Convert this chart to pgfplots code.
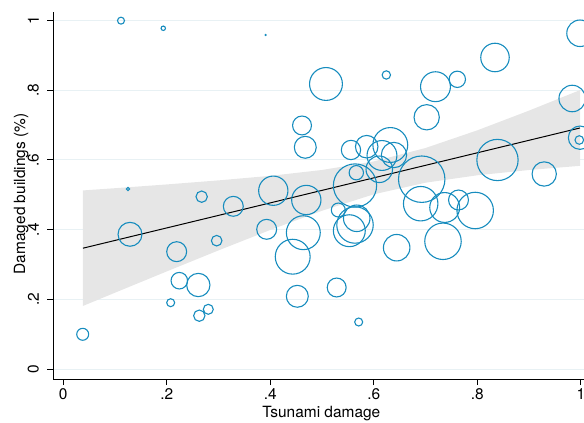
\documentclass[border=0pt]{standalone}
\usepackage{pgfplots}
\pgfplotsset{compat=1.18}
\usepackage{pgfplotstable}
\usepackage{fontspec}
\setmainfont{TeX Gyre Heros}
\definecolor{bub}{RGB}{22,140,190}
\definecolor{band}{RGB}{230,230,230}
\definecolor{gridc}{RGB}{232,241,244}

\pgfplotstableread{
x y r
0.0375 0.1003 6
0.1115 0.9989 3.5
0.1932 0.9771 2.2
0.1250 0.5166 1.7
0.3911 0.9579 0.5
0.1289 0.3868 12
0.2191 0.3370 10
0.2242 0.2539 8.3
0.2609 0.2415 11.7
0.2075 0.1908 4
0.2628 0.1536 5.7
0.2802 0.1719 5
0.2964 0.3685 5.3
0.2674 0.4946 5.7
0.3285 0.4670 10
0.3930 0.4011 10
0.4058 0.5117 14.7
0.4433 0.3226 17.5
0.4522 0.2092 11
0.4613 0.6986 9.5
0.4676 0.6361 11
0.4696 0.4851 14.7
0.4638 0.3914 17
0.5076 0.8175 16.5
0.6242 0.8433 4.2
0.5314 0.4564 7
0.5670 0.4327 13.3
0.5637 0.4135 18.3
0.5527 0.3971 16
0.5283 0.2344 9.5
0.5708 0.1355 4
0.5559 0.6284 9.7
0.5863 0.6378 11.3
0.6319 0.6427 17.5
0.6158 0.6126 15
0.6390 0.6140 12.7
0.6106 0.5731 13.3
0.5662 0.5633 7.2
0.5637 0.5266 21.7
0.6442 0.3484 13.3
0.6926 0.5447 23.3
0.6906 0.4745 17.3
0.7370 0.4636 15
0.7637 0.4851 10
0.7959 0.4550 18.3
0.7337 0.3668 18.3
0.8390 0.5997 20.7
0.9293 0.5596 12.2
0.7022 0.7221 12.7
0.7192 0.8097 15
0.7614 0.8309 8.2
0.8342 0.8934 14.3
0.9985 0.9628 13.3
0.9834 0.7759 13.3
0.9985 0.6636 11.7
0.9971 0.6570 4.3
}\bubbles

\begin{document}
\begin{tikzpicture}[x=1bp,y=1bp]
\useasboundingbox (0,0) rectangle (584,422);
\begin{axis}[
  at={(53.3bp,43bp)}, anchor=south west,
  scale only axis, width=530.7bp, height=367.3bp,
  xmin=-0.0193, xmax=1.0062, ymin=-0.0278, ymax=1.0246,
  axis x line=bottom, axis y line=left,
  axis line style={-, black, line width=1pt},
  tick align=outside, major tick length=6bp,
  tick style={black, line width=1pt},
  xtick={0,0.2,0.4,0.6,0.8,1}, xticklabels={0,.2,.4,.6,.8,1},
  ytick={0,0.2,0.4,0.6,0.8,1}, yticklabels={0,.2,.4,.6,.8,1},
  ymajorgrids, major grid style={gridc, line width=1pt},
  ticklabel style={font=\fontsize{15.5}{18}\selectfont},
  yticklabel style={rotate=90, anchor=south},
  yticklabel shift=5bp,
  label style={font=\fontsize{15.5}{18}\selectfont},
  xlabel={Tsunami damage},
  ylabel={Damaged buildings (\%)},
  xlabel style={at={(axis description cs:0.505,-0.1035)}, anchor=base},
  ylabel style={at={(axis description cs:-0.0533,0.5037)}, anchor=base},
]
\addplot[fill=band, draw=none] coordinates {
(0.038,0.5125) (0.1,0.5189) (0.2,0.5297) (0.3,0.5413) (0.4,0.5543) (0.5,0.5711) (0.6,0.5956) (0.7,0.6341) (0.8,0.6847) (0.9,0.7412) (0.9985,0.8000)
(0.9985,0.5830) (0.9,0.5710) (0.8,0.5559) (0.7,0.5347) (0.6,0.5014) (0.5,0.4543) (0.4,0.3993) (0.3,0.3407) (0.2,0.2805) (0.1,0.2195) (0.038,0.1815)
};
\addplot[scatter, only marks, mark=o, line width=1.1pt,
  scatter/use mapped color={draw=bub},
  visualization depends on={\thisrow{r} \as \rad},
  scatter/@pre marker code/.append style={/tikz/mark size=\rad}]
  table[x=x, y=y] {\bubbles};
\addplot[black, line width=1pt] coordinates {(0.038,0.347) (0.9985,0.6915)};
\end{axis}
\end{tikzpicture}
\end{document}
